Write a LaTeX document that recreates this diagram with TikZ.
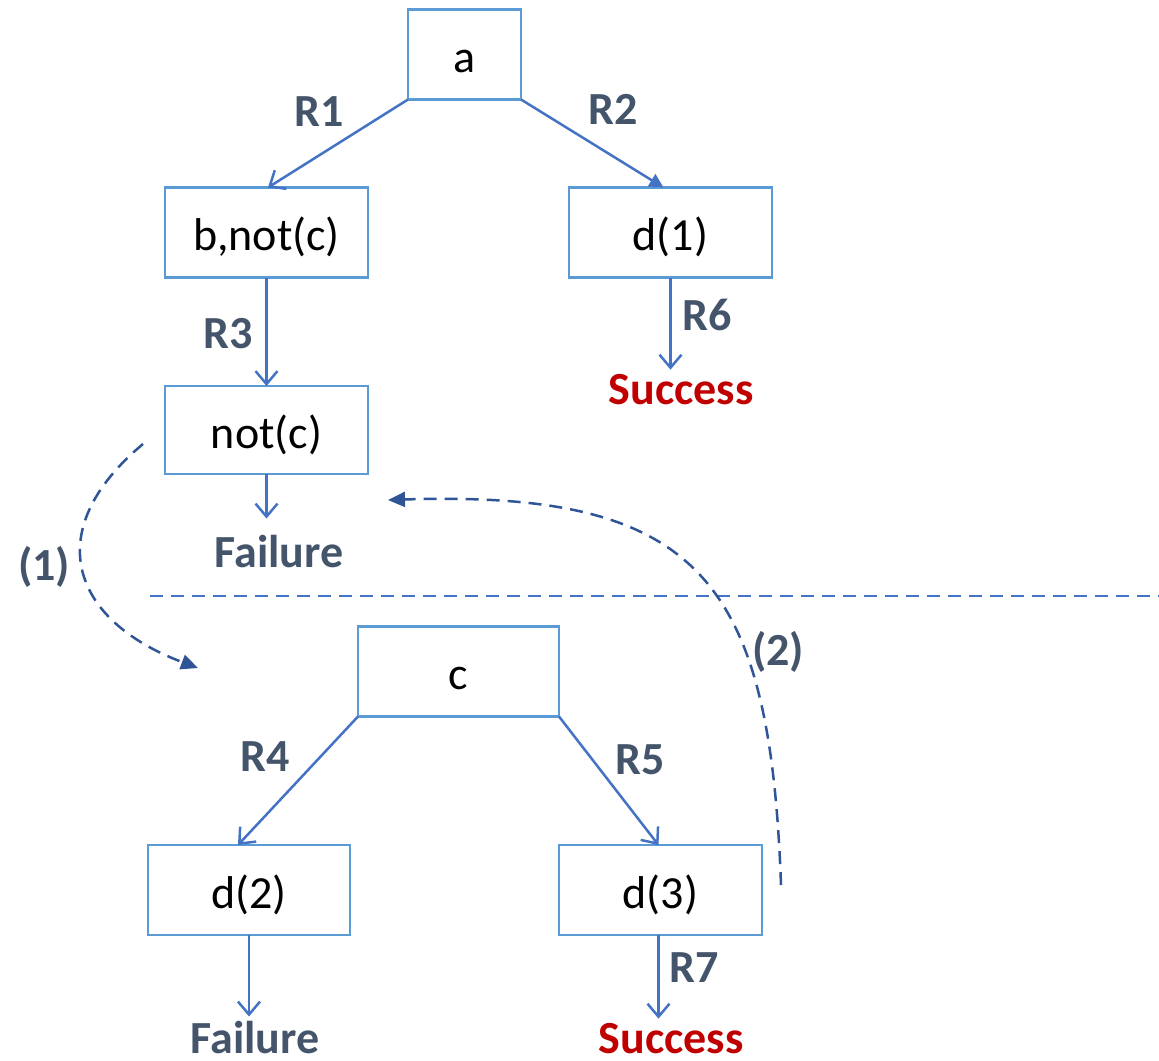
\documentclass[tikz,border=0pt]{standalone}
\usepackage{fontspec}
\setmainfont{Carlito}
\usetikzlibrary{arrows.meta}
\definecolor{boxblue}{RGB}{91,155,213}
\definecolor{arrblue}{RGB}{68,114,196}
\definecolor{dashblue}{RGB}{47,85,151}
\definecolor{slate}{RGB}{68,84,106}
\definecolor{okred}{RGB}{192,0,0}

\begin{document}
\begin{tikzpicture}[
    x=1pt,y=-1pt,
    font=\fontsize{46}{52}\selectfont,
    goal/.style={draw=boxblue,line width=2.5pt,minimum height=90pt,inner sep=0pt,outer sep=0pt,text height=44pt,text depth=8pt},
    rule/.style={text=slate,font=\fontsize{46}{52}\selectfont\bfseries},
    outcome/.style={font=\fontsize{46}{52}\selectfont\bfseries,inner sep=4pt,anchor=base},
    arrow/.style={arrblue,line width=2.5pt,-{Straight Barb[length=13pt,width=22pt,line width=2.5pt]}},
    fillarrow/.style={arrblue,line width=2.5pt,-{Triangle[length=14pt,width=14pt]}},
    jump/.style={dashblue,line width=2.5pt,dash pattern=on 13pt off 8pt,-{Triangle[length=17pt,width=15pt]}}
  ]
    \useasboundingbox (0,0) rectangle (1159,1060);
    % first tree: goal a
    \node[goal,minimum width=113pt] (a) at (464.5,54.5) {a};
    \node[goal,minimum width=203pt] (bnc) at (266.5,232.5) {b,not(c)};
    \node[goal,minimum width=203pt] (d1) at (670.5,232.5) {d(1)};
    \node[goal,minimum width=203pt,minimum height=88pt] (nc) at (266.5,430) {not(c)};
    \node[outcome,text=okred] (ok1) at (681,404) {Success};
    \node[outcome,text=slate] (fail1) at (279,567) {Failure};
    \draw[arrow] (a.south west) -- ([xshift=1.5pt]bnc.north);
    \draw[fillarrow] (a.south east) -- ([xshift=-7pt]d1.north);
    \draw[arrow] (bnc.south) -- (nc.north);
    \draw[arrow] (d1.south) -- (d1.south |- ok1.north);
    \draw[arrow] (nc.south) -- ([yshift=12pt]nc.south |- fail1.north);
    \node[rule] at (319,112) {R1};
    \node[rule] at (613,109) {R2};
    \node[rule] at (228,334) {R3};
    \node[rule] at (707,315) {R6};
    % separator
    \draw[arrblue,line width=2.5pt,dash pattern=on 13pt off 8pt] (150,596) -- (1159,596);
    % second tree: goal c
    \node[goal,minimum width=201pt] (c) at (458.5,671.5) {c};
    \node[goal,minimum width=202pt] (d2) at (249,890) {d(2)};
    \node[goal,minimum width=203pt] (d3) at (660.5,890) {d(3)};
    \node[outcome,text=slate] (fail2) at (255,1053) {Failure};
    \node[outcome,text=okred] (ok2) at (671,1053) {Success};
    \draw[arrow] (c.south west) -- ([xshift=-11pt]d2.north);
    \draw[arrow] (c.south east) -- ([xshift=-2pt]d3.north);
    \draw[arrow] (d2.south) -- (d2.south |- fail2.north);
    \draw[arrow] ([xshift=-2pt]d3.south) -- ([xshift=-2pt]d3.south |- ok2.north);
    \node[rule] at (265,757) {R4};
    \node[rule] at (640,760) {R5};
    \node[rule] at (694,968) {R7};
    % jumps between the trees
    \coordinate (from1) at (143,444);
    \coordinate (to1) at (198,668);
    \coordinate (from2) at (781,885);
    \coordinate (to2) at (388,500);
    \draw[jump] (from1) .. controls (40,530) and (70,620) .. (to1);
    \draw[jump] (from2) .. controls (770,580) and (700,490) .. (to2);
    \node[rule] at (44,567) {(1)};
    \node[rule] at (778,652) {(2)};
\end{tikzpicture}
\end{document}
